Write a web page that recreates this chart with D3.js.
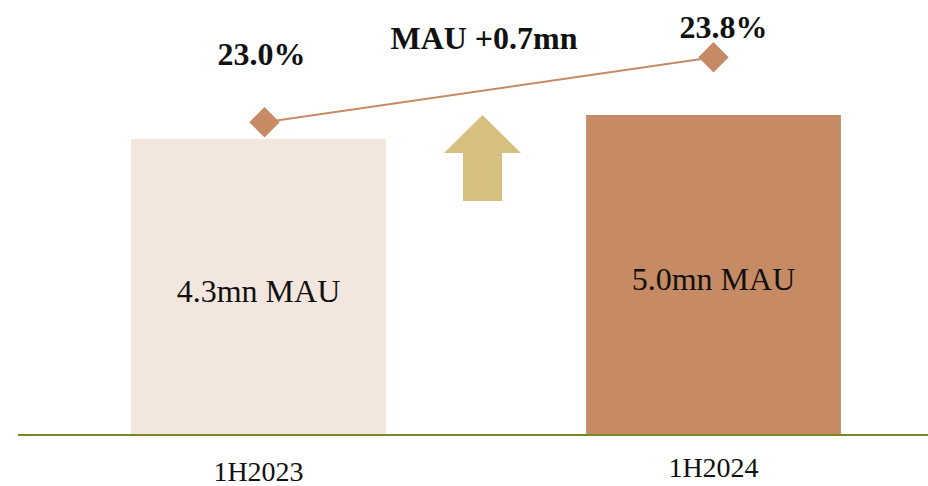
<!DOCTYPE html>
<html>
<head>
<meta charset="utf-8">
<script src="https://cdn.jsdelivr.net/npm/d3@7"></script>
<style>
  html, body { margin:0; padding:0; background:#ffffff; }
  svg text { font-family: "Liberation Serif", "Times New Roman", serif; }
</style>
</head>
<body>
<div id="chart"></div>
<script>
var categories = ['1H2023', '1H2024'];
var mauValues  = [4.3, 5.0];            // mn MAU
var rateValues = [23.0, 23.8];          // %
var mauLabels  = ['4.3mn MAU', '5.0mn MAU'];
var deltaLabel = 'MAU +0.7mn';

var W = 928, H = 486;
var baseY = 435;

var svg = d3.select('#chart').append('svg')
	.attr('width', W)
	.attr('height', H);

var x = d3.scaleBand()
	.domain(categories)
	.range([31, 941])
	.paddingInner(0.44)
	.paddingOuter(0.22);

// bars are not drawn from zero in the original
var yBar = d3.scaleLinear().domain([-4.33, 5.0]).range([baseY, 115]);
var yRate = d3.scaleLinear().domain([22, 24]).range([203.5, 41]);

var barColors = ['#f3e6de', '#c68a64'];

//bars
svg.selectAll('rect.bar')
	.data(mauValues)
	.enter().append('rect')
	.attr('class', 'bar')
	.attr('x', function(d, i){ return x(categories[i]); })
	.attr('y', function(d){ return yBar(d); })
	.attr('width', x.bandwidth())
	.attr('height', function(d){ return baseY - yBar(d); })
	.attr('fill', function(d, i){ return barColors[i]; });

//bar text
svg.selectAll('text.mau')
	.data(mauValues)
	.enter().append('text')
	.attr('class', 'mau')
	.attr('x', function(d, i){ return x(categories[i]) + x.bandwidth() / 2; })
	.attr('y', function(d){ return (yBar(d) + baseY) / 2 + 15; })
	.attr('text-anchor', 'middle')
	.attr('font-size', '32px')
	.attr('fill', '#111111')
	.text(function(d, i){ return mauLabels[i]; });

//baseline
svg.append('line')
	.attr('x1', 18).attr('x2', W)
	.attr('y1', baseY).attr('y2', baseY)
	.attr('stroke', '#76892b')
	.attr('stroke-width', 2);

//category labels
svg.selectAll('text.cat')
	.data(categories)
	.enter().append('text')
	.attr('class', 'cat')
	.attr('x', function(d){ return x(d) + x.bandwidth() / 2; })
	.attr('y', function(d, i){ return i == 0 ? 481 : 477; })
	.attr('text-anchor', 'middle')
	.attr('font-size', '28px')
	.attr('fill', '#111111')
	.text(function(d){ return d; });

//rate line
var px = function(d, i){ return x(categories[i]) + x.bandwidth() / 2 + (i == 0 ? 6 : 0); };
var line = d3.line()
	.x(px)
	.y(function(d){ return yRate(d); });

svg.append('path')
	.datum(rateValues)
	.attr('d', line)
	.attr('fill', 'none')
	.attr('stroke', '#c68a64')
	.attr('stroke-width', 2);

svg.selectAll('path.mark')
	.data(rateValues)
	.enter().append('path')
	.attr('class', 'mark')
	.attr('d', d3.symbol().type(d3.symbolSquare).size(460))
	.attr('transform', function(d, i){ return 'translate(' + px(d, i) + ',' + yRate(d) + ') rotate(45)'; })
	.attr('fill', '#c68a64');

//rate labels
var rateDx = [-3, 10], rateDy = [-57, -19];
svg.selectAll('text.rate')
	.data(rateValues)
	.enter().append('text')
	.attr('class', 'rate')
	.attr('x', function(d, i){ return px(d, i) + rateDx[i]; })
	.attr('y', function(d, i){ return yRate(d) + rateDy[i]; })
	.attr('text-anchor', 'middle')
	.attr('font-size', '32px')
	.attr('font-weight', 'bold')
	.attr('fill', '#111111')
	.text(function(d){ return d.toFixed(1) + '%'; });

//delta arrow
var ax = (x(categories[0]) + x.bandwidth() + x(categories[1])) / 2;
var arrow = [[0, 115], [38.5, 153], [19.5, 153], [19.5, 201], [-19.5, 201], [-19.5, 153], [-38.5, 153]];
svg.append('polygon')
	.attr('points', arrow.map(function(p){ return (ax - 3.5 + p[0]) + ',' + p[1]; }).join(' '))
	.attr('fill', '#d6c07f');

svg.append('text')
	.attr('x', 484)
	.attr('y', 49)
	.attr('text-anchor', 'middle')
	.attr('font-size', '32px')
	.attr('font-weight', 'bold')
	.attr('fill', '#111111')
	.text(deltaLabel);
</script>
</body>
</html>
